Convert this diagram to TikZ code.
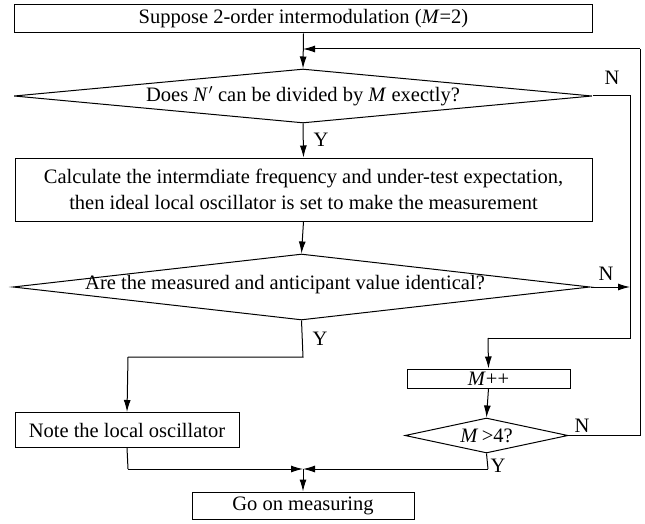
\documentclass[tikz,border=0pt]{standalone}
\usepackage{fontspec}
\setmainfont{Liberation Serif}
\usetikzlibrary{shapes.geometric,arrows.meta}
\begin{document}
\begin{tikzpicture}[x=1pt,y=-1pt,
  every node/.style={font=\fontsize{20.5}{26}\selectfont},
  box/.style={draw,line width=1pt,rectangle,inner sep=0pt,align=center},
  dia/.style={draw,line width=1pt,diamond,inner sep=0pt},
  txt/.style={inner sep=0pt,align=center},
  lbl/.style={inner sep=0pt},
  conn/.style={line width=1pt,-{Latex[length=12pt,width=7pt]}},
  line/.style={line width=1pt}]
\useasboundingbox (0,0) rectangle (645,524);
% boxes
\node[box,minimum width=578pt,minimum height=28pt] (start) at (303.5,19) {Suppose 2-order intermodulation (\textit{M}=2)};
\node[dia,minimum width=578pt,minimum height=54pt] (d1) at (303,96) {};
\node[txt] (d1t) at (d1) {Does \textit{N}\kern0.5pt$'$ can be divided by \textit{M} exectly?};
\node[box,minimum width=577pt,minimum height=63pt] (calc) at (303.5,189.5) {Calculate the intermdiate frequency and under-test expectation,\\then ideal local oscillator is set to make the measurement};
\node[dia,minimum width=577pt,minimum height=66pt] (d2) at (301.5,287) {};
\node[txt] (d2t) at (285,285) {Are the measured and anticipant value identical?};
\node[box,minimum width=224pt,minimum height=35pt] (note) at (127,430) {Note the local oscillator};
\node[box,minimum width=163pt,minimum height=19pt] (inc) at (488.5,378.5) {\textit{M}++};
\node[dia,minimum width=163pt,minimum height=35pt] (d3) at (486.5,435.5) {};
\node[txt] (d3t) at (d3) {\textit{M}\,>4?};
\node[box,minimum width=222pt,minimum height=27pt] (go) at (303,505.5) {Go on measuring};
% coordinates
\coordinate (loopin) at (303,49);
\coordinate (j1) at (630,96);
\coordinate (j1b) at (630,338);
\coordinate (j2) at (303,357);
\coordinate (j3) at (128,357);
\coordinate (j4) at (128,469);
\coordinate (merge) at (303,469);
\coordinate (j5) at (488,469);
\coordinate (j6) at (640,435.5);
\coordinate (j7) at (640,49);
\coordinate (j8) at (488,338);
% connectors
\draw[conn] (start.south) -- (d1.north);
\draw[conn] (j7) -- (loopin);
\draw[line] (d3.east) -- (j6) -- (j7);
\draw[conn] (d1.south) -- (calc.north);
\draw[conn] (calc.south) -- (d2.north);
\draw[line] (d1.east) -- (j1) -- (j1b) -- (j8);
\draw[conn] (j8) -- (inc.north);
\draw[conn] (d2.east) -- (j1 |- d2.east);
\draw[conn] (inc.south) -- (d3.north);
\draw[line] (d2.south) -- (j2) -- (j3);
\draw[conn] (j3) -- (note.north);
\draw[line] (note.south) -- (j4);
\draw[conn] (j4) -- (merge);
\draw[line] (d3.south) -- (j5);
\draw[conn] (j5) -- (merge);
\draw[conn] (merge) -- (go.north);
% labels
\node[lbl] (n1) at (612,78) {N};
\node[lbl] (y1) at (321,140) {Y};
\node[lbl] (n2) at (606,274) {N};
\node[lbl] (y2) at (320,339) {Y};
\node[lbl] (n3) at (582,426) {N};
\node[lbl] (y3) at (498,466) {Y};
\end{tikzpicture}
\end{document}
